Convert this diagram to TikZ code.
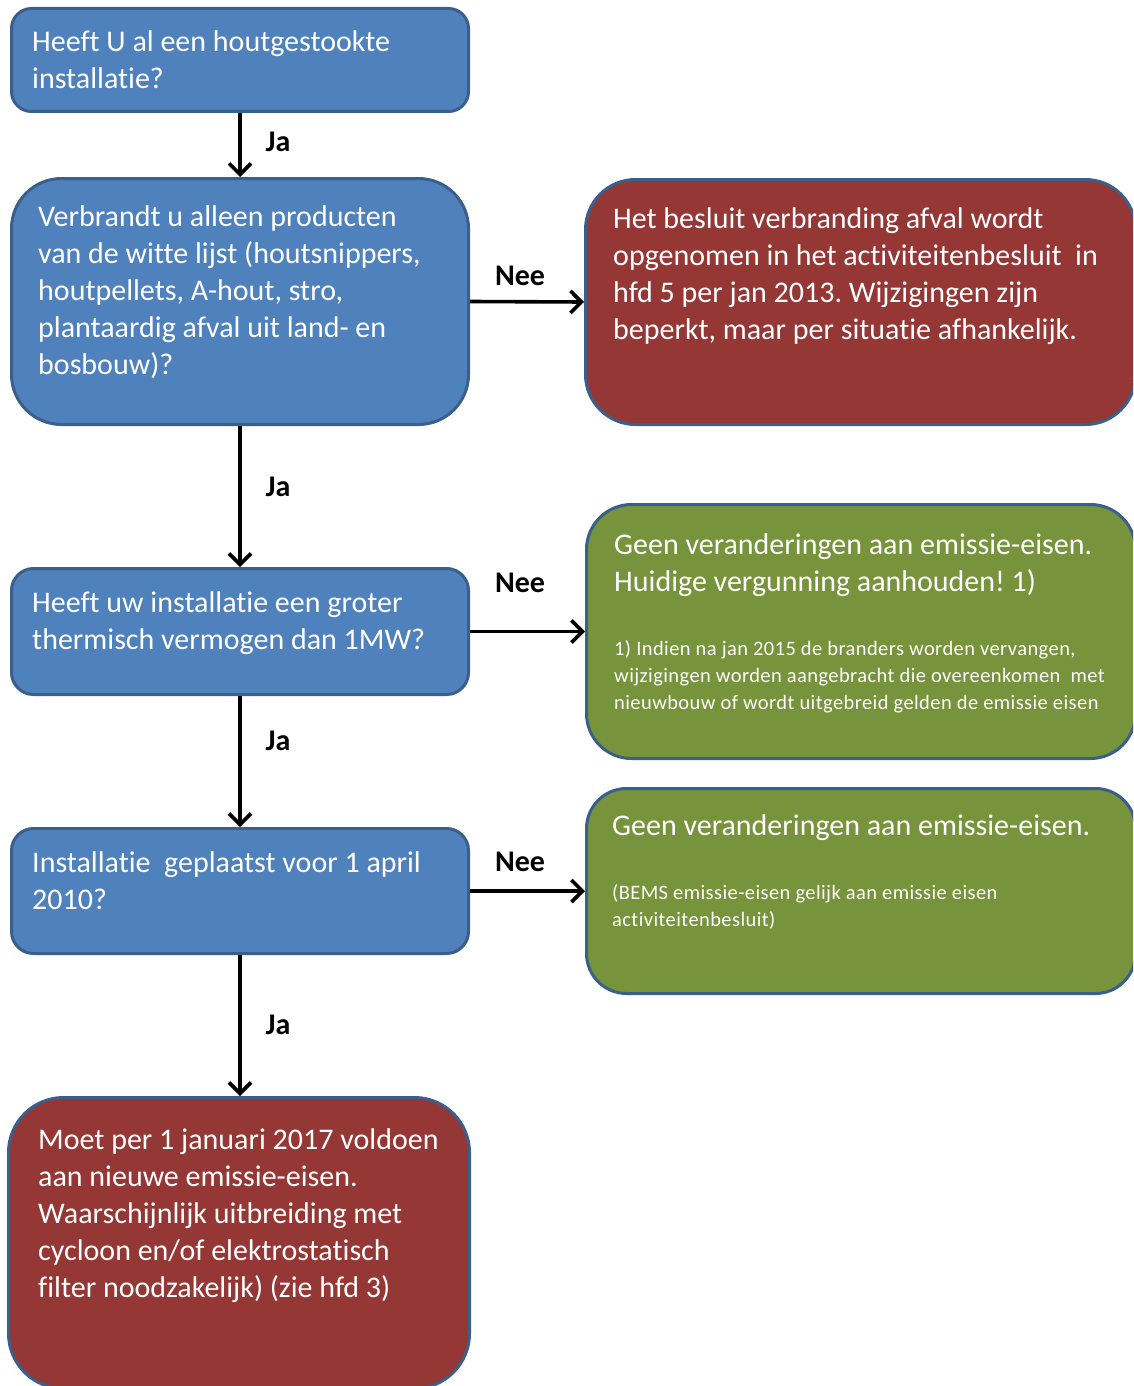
\documentclass[tikz,border=0pt]{standalone}
\usepackage{fontspec}
\setmainfont{Carlito}[Ligatures={NoCommon}]
\usetikzlibrary{arrows.meta}
\definecolor{bfill}{HTML}{4F81BD}
\definecolor{bline}{HTML}{3A5F8B}
\definecolor{rfill}{HTML}{953735}
\definecolor{gfill}{HTML}{77933C}
\frenchspacing
\tikzset{
  box/.style={draw=bline, line width=3pt, inner sep=0pt, shape=rectangle},
  bluebox/.style={box, fill=bfill},
  redbox/.style={box, fill=rfill},
  greenbox/.style={box, fill=gfill},
  bigtxt/.style={anchor=north west, inner sep=0pt, align=left, text=white, font=\fontsize{30}{37}\selectfont},
  smalltxt/.style={anchor=north west, inner sep=0pt, align=left, text=white, font=\fontsize{20.5}{27}\selectfont\addfontfeature{LetterSpace=2}},
  lbl/.style={inner sep=0pt, font=\fontsize{30}{32}\selectfont\bfseries},
  arr/.style={line width=3.6pt, -{Straight Barb[length=11pt,width=22pt,line width=3.6pt]}}
}
\begin{document}
\begin{tikzpicture}[x=1pt,y=-1pt]
\useasboundingbox (0,0) rectangle (1133,1386);
\clip (0,0) rectangle (1133,1386);
% boxes
\node[bluebox, rounded corners=20pt, minimum width=457pt, minimum height=103pt] (b1) at (240,60) {};
\node[bluebox, rounded corners=50pt, minimum width=457pt, minimum height=246pt] (b2) at (240,301.5) {};
\node[bluebox, rounded corners=22pt, minimum width=457pt, minimum height=126pt] (b3) at (240,631.5) {};
\node[bluebox, rounded corners=22pt, minimum width=457pt, minimum height=125pt] (b4) at (240,891) {};
\node[redbox, rounded corners=55pt, minimum width=461pt, minimum height=291pt] (b5) at (239,1243) {};
\node[redbox, rounded corners=50pt, minimum width=550pt, minimum height=245pt] (r1) at (860.5,302) {};
\node[greenbox, rounded corners=45pt, minimum width=549pt, minimum height=254pt] (g1) at (861,631.5) {};
\node[greenbox, rounded corners=40pt, minimum width=549pt, minimum height=205pt] (g2) at (861,891) {};
% texts
\node[bigtxt] (t1) at (32,30) {Heeft U al een houtgestookte\\installatie?};
\node[bigtxt] (t2) at (38,205) {Verbrandt u alleen producten\\van de witte lijst (houtsnippers,\\houtpellets, A-hout, stro,\\plantaardig afval uit land- en\\bosbouw)?};
\node[bigtxt] (t3) at (32,591) {Heeft uw installatie een groter\\thermisch vermogen dan 1MW?};
\node[bigtxt] (t4) at (32,851) {Installatie\ \ geplaatst voor 1 april\\2010?};
\node[bigtxt] (t5) at (38,1128) {Moet per 1 januari 2017 voldoen\\aan nieuwe emissie-eisen.\\Waarschijnlijk uitbreiding met\\cycloon en/of elektrostatisch\\filter noodzakelijk) (zie hfd 3)};
\node[bigtxt] (tr) at (613,207) {Het besluit verbranding afval wordt\\opgenomen in het activiteitenbesluit\ \ in\\hfd 5 per jan 2013. Wijzigingen zijn\\beperkt, maar per situatie afhankelijk.};
\node[bigtxt] (tg1) at (614,533) {Geen veranderingen aan emissie-eisen.\\Huidige vergunning aanhouden! 1)};
\node[smalltxt] (sg1) at (614,640) {1) Indien na jan 2015 de branders worden vervangen,\\wijzigingen worden aangebracht die overeenkomen\ \ met\\nieuwbouw of wordt uitgebreid gelden de emissie eisen};
\node[bigtxt] (tg2) at (612,814) {Geen veranderingen aan emissie-eisen.};
\node[smalltxt] (sg2) at (612,884) {(BEMS emissie-eisen gelijk aan emissie eisen\\activiteitenbesluit)};
% connectors
\draw[arr] (b1.south) -- (b2.north);
\draw[arr] (b2.south) -- (b3.north);
\draw[arr] (b3.south) -- (b4.north);
\draw[arr] (b4.south) -- (b4.south |- b5.north);
\draw[arr] (b2.east) -- (r1.west);
\draw[arr] (b3.east) -- (g1.west);
\draw[arr] (b4.east) -- (g2.west);
% labels
\node[lbl] (j1) at (278,142) {Ja};
\node[lbl] (j2) at (278,487) {Ja};
\node[lbl] (j3) at (278,741) {Ja};
\node[lbl] (j4) at (278,1025) {Ja};
\node[lbl] (n1) at (520,276) {Nee};
\node[lbl] (n2) at (520,583) {Nee};
\node[lbl] (n3) at (520,862) {Nee};
\end{tikzpicture}
\end{document}
